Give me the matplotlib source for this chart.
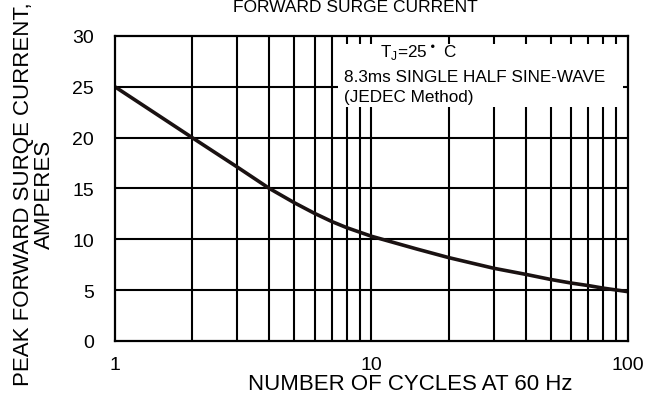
import numpy as np
import matplotlib.pyplot as plt
from matplotlib.patches import Rectangle

plt.rcParams['font.family'] = ['Liberation Sans', 'DejaVu Sans']

# curve
cycles = [1, 2, 3, 4, 5, 6, 7, 8, 9, 10, 15, 20, 30, 40, 50, 60, 70, 80, 100]
current = [25, 20, 17.1, 15.0, 13.6, 12.55, 11.75, 11.15, 10.7, 10.3,
           9.05, 8.2, 7.15, 6.55, 6.05, 5.7, 5.45, 5.2, 4.85]

y_ticks = [0, 5, 10, 15, 20, 25, 30]
x_ticks = [1, 10, 100]
x_tick_labels = ['1', '10', '100']
note_lines = ['8.3ms SINGLE HALF SINE-WAVE', '(JEDEC Method)']

H = 410
fig = plt.figure(figsize=(6.71, 4.10), dpi=100)
ax = fig.add_axes([0.1714, 0.1659, 0.7645, 0.7439])

ax.set_xscale('log')
ax.set_xlim(1, 100)
ax.set_ylim(0, 30)

# grid
xgrid = [2, 3, 4, 5, 6, 7, 8, 9, 10, 20, 30, 40, 50, 60, 70, 80, 90]
for xv in xgrid:
    ax.axvline(xv, color='black', lw=1.5, zorder=1)
for yv in y_ticks[1:-1]:
    ax.axhline(yv, color='black', lw=1.5, zorder=1)

# white note area covering the grid
ax.add_patch(Rectangle((7.4, 23.0), 95.7 - 7.4, 29.2 - 23.0,
                       facecolor='white', edgecolor='none', zorder=2))

ax.plot(cycles, current, color='#1a1212', lw=2.6, zorder=3,
        solid_capstyle='butt')

for s in ax.spines.values():
    s.set_linewidth(1.6)
    s.set_zorder(4)

ax.set_yticks(y_ticks)
ax.set_yticklabels([str(v) for v in y_ticks])
ax.set_xticks(x_ticks)
ax.set_xticklabels(x_tick_labels)
ax.xaxis.set_minor_locator(plt.NullLocator())
ax.tick_params(length=0, labelsize=14)
ax.tick_params(axis='y', pad=15)
ax.tick_params(axis='x', pad=11)

ax.text(380, H - 53, 'T$_\\mathregular{J}$=25$^\\bullet$ C', transform=None,
        fontsize=12.3, va='center', ha='left', zorder=5)
ax.text(344, H - 78, note_lines[0], transform=None, fontsize=12.3,
        va='center', ha='left', zorder=5)
ax.text(344, H - 98, note_lines[1], transform=None, fontsize=12.3,
        va='center', ha='left', zorder=5)

fig.text(355 / 671, 1 - 8 / 410, 'FORWARD SURGE CURRENT', fontsize=12.5,
         ha='center', va='center')
fig.text(410 / 671, 1 - 385 / 410, 'NUMBER OF CYCLES AT 60 Hz', fontsize=16,
         ha='center', va='center')
fig.text(34 / 671, 1 - 194 / 410, 'PEAK FORWARD SURQE CURRENT,\nAMPERES',
         fontsize=16, rotation=90, ha='center', va='center',
         multialignment='center', linespacing=1.05)

fig.savefig('out.png', dpi=100)
